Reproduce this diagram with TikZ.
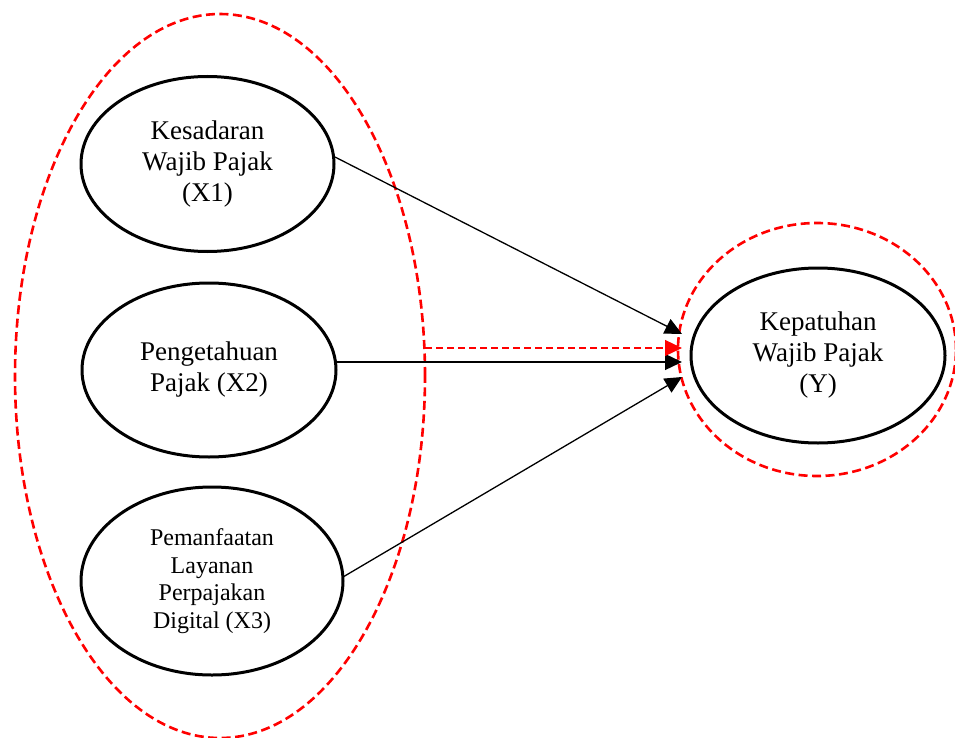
\documentclass[tikz,border=0pt]{standalone}
\usepackage{fontspec}
\setmainfont{Liberation Serif}
\usetikzlibrary{shapes.geometric,arrows.meta}
\begin{document}
\begin{tikzpicture}[x=1pt,y=-1pt,
  var/.style={ellipse,draw=black,line width=3pt,inner sep=0pt,align=center,
    font=\fontsize{27}{31}\selectfont},
  grp/.style={ellipse,draw=red,dash pattern=on 9pt off 4.5pt,line width=2.6pt,inner sep=0pt},
  conn/.style={draw=black,line width=1.3pt,-{Triangle[length=17pt,width=16pt]}},
  rconn/.style={draw=red,line width=1.2pt,dash pattern=on 7pt off 4pt,-{Triangle[length=17pt,width=16pt,fill=red]}}]
\useasboundingbox (0,0) rectangle (955,738);
% group ellipses
\node[grp,minimum width=410pt,minimum height=724pt] (G) at (220,376) {};
\node[grp,minimum width=278pt,minimum height=253pt] (GY) at (817,349.5) {};
% variables
\node[var,minimum width=253pt,minimum height=175pt] (X1) at (207.5,164) {Kesadaran\\Wajib Pajak\\(X1)};
\node[var,minimum width=254pt,minimum height=174pt] (X2) at (209,370) {Pengetahuan\\Pajak (X2)};
\node[var,minimum width=262pt,minimum height=188pt,font=\fontsize{24}{27.7}\selectfont] (X3) at (212,581) {Pemanfaatan\\Layanan\\Perpajakan\\Digital (X3)};
\node[var,minimum width=254pt,minimum height=175pt] (Y) at (818,355.5) {Kepatuhan\\Wajib Pajak\\(Y)};
% connector end points
\coordinate (e1) at (682,334);
\coordinate (e2) at (682,362);
\coordinate (e3) at (682,377);
\coordinate (er) at (682,348);
\coordinate (sr) at (425,348);
\coordinate (s1) at (335,157);
\coordinate (s2) at (337,362);
\coordinate (s3) at (343,577);
\draw[conn] (s1) -- (e1);
\draw[conn] (s2) -- (e2);
\draw[conn] (s3) -- (e3);
\draw[rconn] (sr) -- (er);
\end{tikzpicture}
\end{document}
